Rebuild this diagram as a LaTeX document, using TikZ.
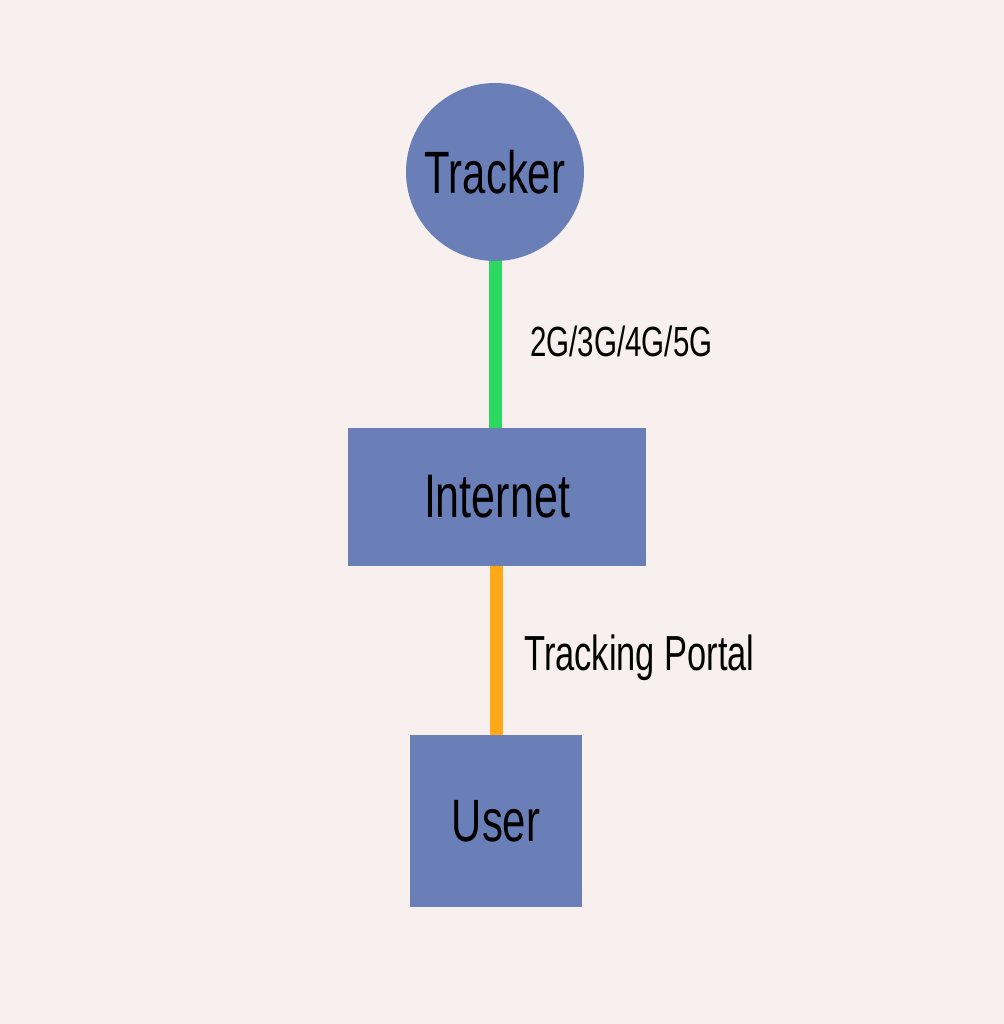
\documentclass[tikz,border=0pt]{standalone}
\usepackage{fontspec}
\setmainfont{Liberation Sans}[FakeStretch=0.7]
\usepackage{xcolor}
\usetikzlibrary{positioning}
\definecolor{bgpink}{HTML}{F8F0EE}
\definecolor{nodeblue}{HTML}{6A7EB8}
\definecolor{linkgreen}{HTML}{2CD860}
\definecolor{linkorange}{HTML}{FFA818}
\tikzset{
    box/.style={fill=nodeblue,draw=none,inner sep=0pt,font=\fontsize{34}{34}\selectfont},
    link/.style={line width=0.26cm},
    lbl/.style={anchor=base west,inner sep=0pt}
}

\begin{document}
\begin{tikzpicture}
    		\fill[bgpink] (0,0) rectangle (20.08,20.48);
    		\node[box,circle,minimum size=3.56cm] (tracker) at (9.9,17.04) {Tracker};
    		\node[box,rectangle,minimum width=5.96cm,minimum height=2.76cm,font=\fontsize{35}{35}\selectfont] (internet) at (9.94,10.54) {Internet};
    		\node[box,rectangle,minimum width=3.44cm,minimum height=3.44cm] (user) at (9.92,4.06) {User};
    		\draw[link,linkgreen] (tracker.south) -- (tracker.south |- internet.north);
    		\draw[link,linkorange] (user.north |- internet.south) -- (user.north);
    		\node[lbl,font=\fontsize{24}{24}\selectfont] (net) at (10.6,13.34) {2G/3G/4G/5G};
    		\node[lbl,font=\fontsize{28}{28}\selectfont] (portal) at (10.48,7.06) {Tracking Portal};
    		\end{tikzpicture}
\end{document}
